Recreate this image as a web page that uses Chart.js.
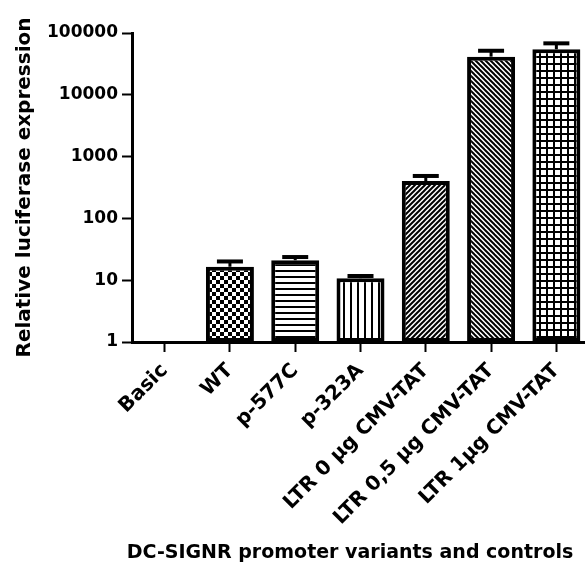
<!DOCTYPE html>
<html>
<head>
<meta charset="utf-8">
<script src="https://cdn.jsdelivr.net/npm/chart.js@4/dist/chart.umd.min.js"></script>
<style>
  html, body { margin: 0; padding: 0; background: #fff; overflow: hidden; }
  #wrap { width: 585px; height: 565px; overflow: hidden; }
</style>
</head>
<body>
<div id="wrap"><canvas id="chart" width="589" height="565"></canvas></div>
<script>
// values
const categories = ['Basic', 'WT', 'p-577C', 'p-323A', 'LTR 0 µg CMV-TAT', 'LTR 0,5 µg CMV-TAT', 'LTR 1µg CMV-TAT'];
const means = [null, 16.5, 21, 10.8, 403, 41400, 54500];
const upperErr = [null, 20.1, 23.7, 11.7, 486, 51600, 68000];
const yTicks = [1, 10, 100, 1000, 10000, 100000];
const xTitle = 'DC-SIGNR promoter variants and controls';

function makePattern(size, draw) {
  const c = document.createElement('canvas');
  c.width = size;
  c.height = size;
  const g = c.getContext('2d');
  g.fillStyle = '#fff';
  g.fillRect(0, 0, size, size);
  g.fillStyle = '#000';
  g.strokeStyle = '#000';
  draw(g, size);
  return g.createPattern(c, 'repeat');
}

function diag(g, s, up) {
  g.lineWidth = 2;
  const segs = up
    ? [[-1, s + 1, s + 1, -1], [-1, 1, 1, -1], [s - 1, s + 1, s + 1, s - 1]]
    : [[-1, -1, s + 1, s + 1], [-1, s - 1, 1, s + 1], [s - 1, -1, s + 1, 1]];
  segs.forEach(([a, b, c, d]) => {
    g.beginPath();
    g.moveTo(a, b);
    g.lineTo(c, d);
    g.stroke();
  });
}

const fills = [
  '#fff',
  makePattern(8, g => { g.fillRect(0, 0, 4, 4); g.fillRect(4, 4, 4, 4); }),
  makePattern(6, g => g.fillRect(0, 0, 6, 2)),
  makePattern(7, g => g.fillRect(0, 0, 2, 7)),
  makePattern(5, (g, s) => diag(g, s, true)),
  makePattern(5, (g, s) => diag(g, s, false)),
  makePattern(7, g => { g.fillRect(0, 0, 7, 2); g.fillRect(0, 0, 2, 7); }),
];

const errorBars = {
  id: 'errorBars',
  afterDatasetsDraw(chart) {
    const meta = chart.getDatasetMeta(0);
    const y = chart.scales.y;
    const ctx = chart.ctx;
    ctx.save();
    ctx.strokeStyle = '#000';
    meta.data.forEach((bar, i) => {
      if (means[i] == null || upperErr[i] == null) return;
      const top = y.getPixelForValue(upperErr[i]);
      ctx.lineWidth = 3;
      ctx.beginPath();
      ctx.moveTo(bar.x, bar.y);
      ctx.lineTo(bar.x, top);
      ctx.stroke();
      ctx.lineWidth = 4;
      ctx.beginPath();
      ctx.moveTo(bar.x - 13, top);
      ctx.lineTo(bar.x + 13, top);
      ctx.stroke();
    });
    ctx.restore();
  }
};

// x title sits a bit left of the axis centre in the original
const xTitlePlugin = {
  id: 'xTitle',
  afterDraw(chart) {
    const ctx = chart.ctx;
    ctx.save();
    ctx.font = 'bold 19px "DejaVu Sans", sans-serif';
    ctx.fillStyle = '#000';
    ctx.textAlign = 'center';
    ctx.textBaseline = 'middle';
    ctx.fillText(xTitle, 350, 553);
    ctx.restore();
  }
};

Chart.defaults.font.family = '"DejaVu Sans", sans-serif';
Chart.defaults.font.weight = 'bold';
Chart.defaults.color = '#000';

new Chart(document.getElementById('chart'), {
  type: 'bar',
  data: {
    labels: categories,
    datasets: [{
      data: means,
      backgroundColor: fills,
      borderColor: '#000',
      borderWidth: 4,
      borderSkipped: false,
      barPercentage: 0.735,
      categoryPercentage: 1,
    }],
  },
  options: {
    responsive: false,
    animation: false,
    layout: { padding: { top: 33, left: 0, right: 0, bottom: 0 } },
    plugins: {
      legend: { display: false },
      tooltip: { enabled: false },
    },
    scales: {
      x: {
        offset: true,
        grid: { offset: false, drawOnChartArea: false, tickLength: 10, tickWidth: 2, tickColor: '#000' },
        border: { color: '#000', width: 3 },
        ticks: { autoSkip: false, maxRotation: 45, minRotation: 45, padding: 7, font: { size: 20, weight: 'bold' } },
        afterFit(scale) { scale.height = 223; },
      },
      y: {
        type: 'logarithmic',
        min: 1,
        max: 100000,
        grid: { drawOnChartArea: false, tickLength: 10, tickWidth: 2, tickColor: '#000' },
        border: { color: '#000', width: 3 },
        ticks: { padding: 4, font: { size: 17, weight: 'bold' }, callback: v => String(v) },
        afterBuildTicks(scale) { scale.ticks = yTicks.map(v => ({ value: v })); },
        title: { display: true, text: 'Relative luciferase expression', font: { size: 20, weight: 'bold' }, padding: { top: 13, bottom: 0 } },
        afterFit(scale) { scale.width = 132; },
      },
    },
  },
  plugins: [errorBars, xTitlePlugin],
});
</script>
</body>
</html>
